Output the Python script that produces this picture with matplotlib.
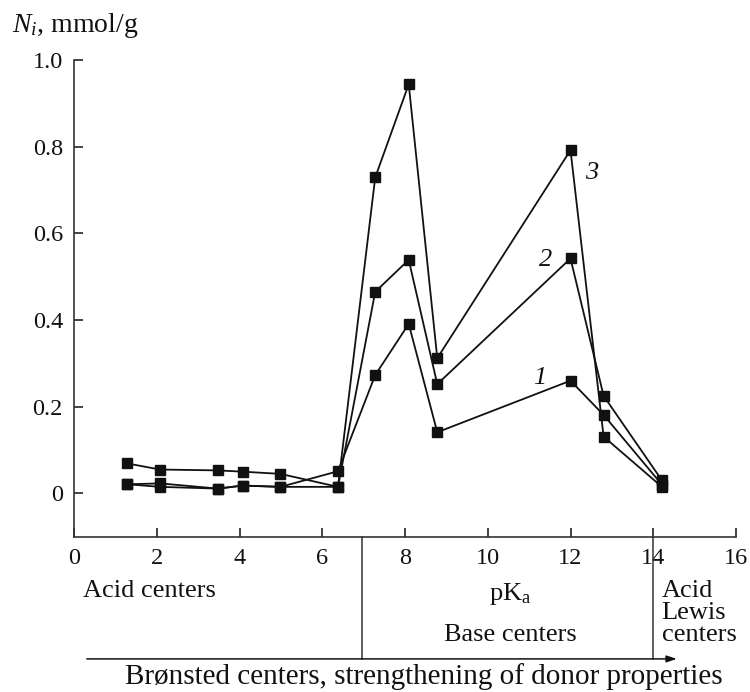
import matplotlib
matplotlib.use("Agg")
import matplotlib.pyplot as plt

plt.rcParams['font.family'] = ['Liberation Serif', 'DejaVu Serif']
plt.rcParams['mathtext.fontset'] = 'custom'
plt.rcParams['mathtext.rm'] = 'Liberation Serif'
plt.rcParams['mathtext.it'] = 'Liberation Serif:italic'

# pKa values of the indicators
pka = [1.29, 2.08, 3.48, 4.08, 4.99, 6.38, 7.28, 8.09, 8.78, 12.0, 12.8, 14.21]

# N_i, mmol/g for samples 1..3
n1 = [0.021, 0.015, 0.011, 0.018, 0.015, 0.051, 0.273, 0.391, 0.141, 0.260, 0.181, 0.020]
n2 = [0.021, 0.023, 0.011, 0.018, 0.015, 0.015, 0.465, 0.539, 0.252, 0.542, 0.225, 0.030]
n3 = [0.069, 0.055, 0.053, 0.050, 0.045, 0.015, 0.729, 0.944, 0.312, 0.792, 0.131, 0.015]

curve_names = ["1", "2", "3"]
curve_label_pos = [(11.25, 0.266), (11.39, 0.539), (12.52, 0.739)]

yticks = [0, 0.2, 0.4, 0.6, 0.8, 1.0]
ytick_labels = ["0", "0.2", "0.4", "0.6", "0.8", "1.0"]
xticks = [0, 2, 4, 6, 8, 10, 12, 14, 16]

region_bounds = [6.95, 14.0]   # borders between acid / base / Lewis regions

ink = "#111111"
fs = 19

fig = plt.figure(figsize=(7.5, 6.92), dpi=100)
ax = fig.add_axes([0.09867, 0.22442, 0.88267, 0.68887])

for series in (n1, n2, n3):
    ax.plot(pka, series, color=ink, lw=1.3, marker="s", ms=6.5,
            mfc=ink, mec=ink, clip_on=False, zorder=3)

for name, (tx, ty) in zip(curve_names, curve_label_pos):
    ax.text(tx, ty, name, fontsize=fs, style="italic", ha="center", va="center", color=ink)

ax.set_xlim(0, 16)
ax.set_ylim(-0.1, 1.0)
ax.set_xticks(xticks)
ax.set_yticks(yticks)
ax.set_yticklabels(ytick_labels)
ax.spines["top"].set_visible(False)
ax.spines["right"].set_visible(False)
for s in ("left", "bottom"):
    ax.spines[s].set_linewidth(1.2)
    ax.spines[s].set_color("#333333")
ax.tick_params(direction="in", length=6.5, width=1.1, labelsize=17.5, pad=8, colors=ink)

# region annotations below the axis
y_arrow = -0.382
for b in region_bounds:
    ax.plot([b, b], [-0.1, y_arrow], color="#333333", lw=1.1, clip_on=False)
ax.annotate("", xy=(14.57, y_arrow), xytext=(0.31, y_arrow), xycoords="data",
            annotation_clip=False,
            arrowprops=dict(arrowstyle="-|>,head_length=0.6,head_width=0.2",
                            color=ink, lw=1.1, shrinkA=0, shrinkB=0))

ax.text(0.22, -0.239, "Acid centers", fontsize=fs, ha="left", va="baseline", color=ink)
ax.text(10.54, -0.246, r"pK$_{\mathrm{a}}$", fontsize=fs, ha="center", va="baseline", color=ink)
ax.text(10.55, -0.341, "Base centers", fontsize=fs, ha="center", va="baseline", color=ink)
ax.text(14.2, -0.239, "Acid", fontsize=fs, ha="left", va="baseline", color=ink)
ax.text(14.2, -0.290, "Lewis", fontsize=fs, ha="left", va="baseline", color=ink)
ax.text(14.2, -0.341, "centers", fontsize=fs, ha="left", va="baseline", color=ink)
ax.text(8.46, -0.439, "Brønsted centers, strengthening of donor properties",
        fontsize=21, ha="center", va="baseline", color=ink)

fig.text(12 / 750, 1 - 25 / 692, r"$N_i$, mmol/g", fontsize=20, ha="left", va="center", color=ink)

fig.savefig("out.png", dpi=100)
